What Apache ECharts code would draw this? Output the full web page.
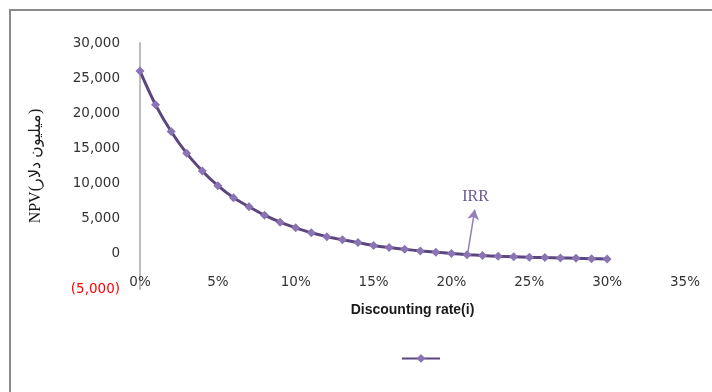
<!DOCTYPE html>
<html>
<head>
<meta charset="utf-8">
<script src="https://cdn.jsdelivr.net/npm/echarts@6/dist/echarts.min.js"></script>
<style>
html,body{margin:0;padding:0;background:#fff;}
#chart{width:712px;height:392px;}
</style>
</head>
<body>
<div id="chart"></div>
<script>
// Discount rates (%)
var rates = [0,1,2,3,4,5,6,7,8,9,10,11,12,13,14,15,16,17,18,19,20,21,22,23,24,25,26,27,28,29,30];
// NPV values (million dollars)
var npv = [26000,21200,17400,14300,11800,9700,8000,6700,5500,4500,3700,3000,2450,2000,1600,1200,900,650,420,230,60,-110,-240,-330,-400,-470,-530,-580,-630,-690,-720];
// IRR annotation arrow: [rate, npv] start and end
var irrArrowStart = [21.05, 150];
var irrArrowEnd = [21.5, 6300];
var irrLabel = 'IRR';
var xTitle = 'Discounting rate(i)';
var yTitle = 'NPV(میلیون دلار)';

var seriesData = rates.map(function (r, i) { return [r, npv[i]]; });

var chart = echarts.init(document.getElementById('chart'));
chart.setOption({
  animation: false,
  backgroundColor: '#ffffff',
  graphic: [{
    type: 'rect',
    shape: { x: 10, y: 10, width: 800, height: 500 },
    style: { fill: 'none', stroke: '#8a8a8a', lineWidth: 2 },
    silent: true
  }],
  legend: {
    left: 396,
    top: 349,
    itemWidth: 38,
    itemHeight: 11,
    itemGap: 0,
    textStyle: { fontSize: 1, color: '#fff' },
    data: [{ name: ' ' }]
  },
  grid: { left: 140, right: 27, top: 43, bottom: 103, outerBoundsMode: 'none' },
  xAxis: {
    type: 'value',
    min: 0, max: 35, interval: 5,
    position: 'bottom',
    axisLine: { show: false },
    axisTick: { show: false },
    splitLine: { show: false },
    axisLabel: {
      margin: -14,
      formatter: '{value}%',
      color: '#333333',
      fontFamily: 'DejaVu Sans',
      fontSize: 13.5
    },
    name: xTitle,
    nameLocation: 'middle',
    nameGap: 14,
    nameTextStyle: { color: '#1a1a1a', fontFamily: 'Liberation Sans', fontWeight: 'bold', fontSize: 14 }
  },
  yAxis: {
    type: 'value',
    min: -5000, max: 30000, interval: 5000,
    axisLine: { show: true, onZero: false, lineStyle: { color: '#bdbdbd', width: 2 } },
    axisTick: { show: false },
    splitLine: { show: false },
    axisLabel: {
      margin: 20,
      color: '#333333',
      fontFamily: 'DejaVu Sans',
      fontSize: 13.5,
      formatter: function (v) {
        if (v < 0) return '{neg|(' + Math.abs(v).toLocaleString('en-US') + ')}';
        return v.toLocaleString('en-US');
      },
      rich: { neg: { color: '#ff0000', fontFamily: 'DejaVu Sans', fontSize: 13.5 } }
    },
    name: yTitle,
    nameLocation: 'middle',
    nameRotate: 90,
    nameGap: 96,
    nameTextStyle: { color: '#1a1a1a', fontFamily: 'Liberation Serif', fontSize: 16 }
  },
  series: [{
    name: ' ',
    type: 'line',
    data: seriesData,
    smooth: 0.3,
    symbol: 'diamond',
    symbolSize: 9,
    lineStyle: { color: '#5b4680', width: 3 },
    itemStyle: { color: '#8a74b3' },
    markLine: {
      silent: true,
      symbol: ['none', 'arrow'],
      symbolSize: [9, 10],
      lineStyle: { color: '#9480bd', width: 1.5, type: 'solid' },
      label: {
        show: true,
        position: 'end',
        distance: 5,
        formatter: irrLabel,
        color: '#6a5893',
        fontFamily: 'Liberation Serif',
        fontSize: 16
      },
      data: [[{ coord: irrArrowStart }, { coord: irrArrowEnd }]]
    }
  }]
});
</script>
</body>
</html>
